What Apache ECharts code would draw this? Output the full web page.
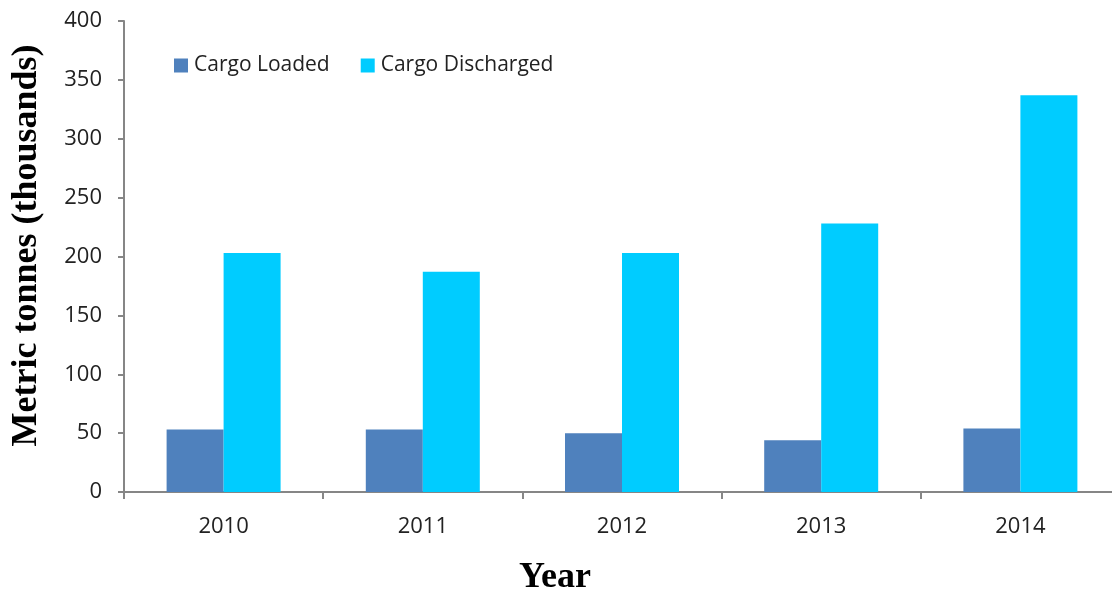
<!DOCTYPE html>
<html><head><meta charset="utf-8">
<script src="https://cdn.jsdelivr.net/npm/echarts@6/dist/echarts.min.js"></script>
<style>html,body{margin:0;padding:0;background:#fff}#c{width:1112px;height:590px}</style>
</head><body><div id="c"></div>
<script>
const categories = ['2010', '2011', '2012', '2013', '2014'];
const cargoLoaded = [53, 53, 50, 44, 54];
const cargoDischarged = [203, 187, 203, 228, 337];
const yTicks = [0, 50, 100, 150, 200, 250, 300, 350, 400];

const chart = echarts.init(document.getElementById('c'), null, {renderer: 'canvas'});
const labelFont = {fontFamily: 'Open Sans', fontSize: 22, color: '#222'};
chart.setOption({
  animation: false,
  backgroundColor: '#fff',
  grid: {left: 124, top: 21, width: 996, height: 471, containLabel: false, outerBoundsMode: 'none'},
  legend: {
    left: 169, top: 50, itemWidth: 14, itemHeight: 14, itemGap: 31,
    icon: 'rect',
    textStyle: {fontFamily: 'Open Sans', fontSize: 21, color: '#222', padding: [0, 0, 0, 1]},
    data: ['Cargo Loaded', 'Cargo Discharged']
  },
  xAxis: {
    type: 'category', data: categories,
    axisLine: {lineStyle: {color: '#868686', width: 2}},
    axisTick: {show: true, alignWithLabel: false, length: 7, lineStyle: {color: '#868686', width: 2}},
    axisLabel: Object.assign({margin: 24}, labelFont),
    name: 'Year', nameLocation: 'middle', nameGap: 68,
    nameTextStyle: {fontFamily: 'Liberation Serif', fontWeight: 'bold', fontSize: 36, color: '#000', padding: [0, 0, 0, -134]}
  },
  yAxis: {
    type: 'value', min: 0, max: 400, interval: 50,
    axisLine: {show: true, lineStyle: {color: '#868686', width: 2}},
    axisTick: {show: true, length: 6, lineStyle: {color: '#868686', width: 2}},
    splitLine: {show: false},
    axisLabel: Object.assign({margin: 22, formatter: v => yTicks.includes(v) ? String(v) : ''}, labelFont),
    name: 'Metric tonnes (thousands)', nameLocation: 'middle', nameGap: 79,
    nameTextStyle: {fontFamily: 'Liberation Serif', fontWeight: 'bold', fontSize: 36, color: '#000', padding: [0, 0, 0, 22]}
  },
  series: [
    {name: 'Cargo Loaded', type: 'bar', data: cargoLoaded, barWidth: 57, barGap: '0%',
     itemStyle: {color: '#4f81bd'}},
    {name: 'Cargo Discharged', type: 'bar', data: cargoDischarged, barWidth: 57, barGap: '0%',
     itemStyle: {color: '#00ccff'}}
  ]
});
</script></body></html>
